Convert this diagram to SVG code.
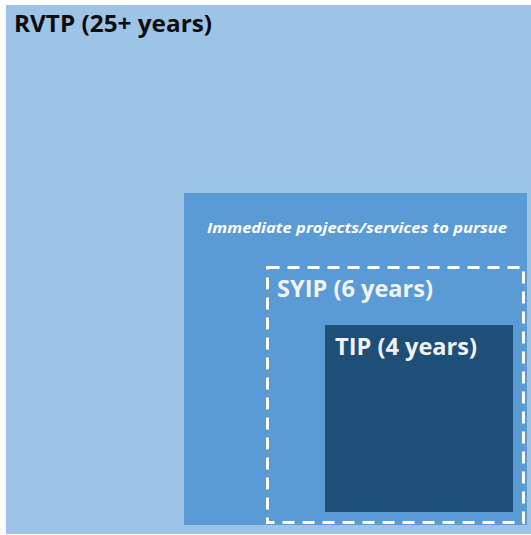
<svg xmlns="http://www.w3.org/2000/svg" width="531" height="535" viewBox="0 0 531 535">
<style>
.t{font-family:"Open Sans","Liberation Sans",sans-serif;font-weight:bold;}
.w{fill:#F2F2F2;}
</style>
<rect width="531" height="535" fill="#FFFFFF"/>
<g id="rvtp">
<rect x="6" y="5" width="525" height="529" fill="#9DC3E6"/>
<text class="t" x="14" y="32" font-size="23" fill="#0D0D0D" textLength="198" lengthAdjust="spacingAndGlyphs">RVTP (25+ years)</text>
</g>
<g id="immediate">
<rect x="184" y="193" width="343" height="332" fill="#5B9BD5"/>
<text class="t" x="207" y="233" font-size="15" font-style="italic" fill="#FFFFFF" textLength="300" lengthAdjust="spacingAndGlyphs">Immediate projects/services to pursue</text>
</g>
<g id="syip">
<rect x="267.5" y="267.5" width="256" height="255" fill="none" stroke="#FFFFFF" stroke-width="3" stroke-dasharray="12 8"/>
<text class="t w" x="277" y="297" font-size="23" textLength="156" lengthAdjust="spacingAndGlyphs">SYIP (6 years)</text>
</g>
<g id="tip">
<rect x="325" y="325" width="188" height="187" fill="#1F4E79"/>
<text class="t w" x="335" y="355" font-size="23" textLength="142" lengthAdjust="spacingAndGlyphs">TIP (4 years)</text>
</g>
<g id="connectors"></g>
</svg>
